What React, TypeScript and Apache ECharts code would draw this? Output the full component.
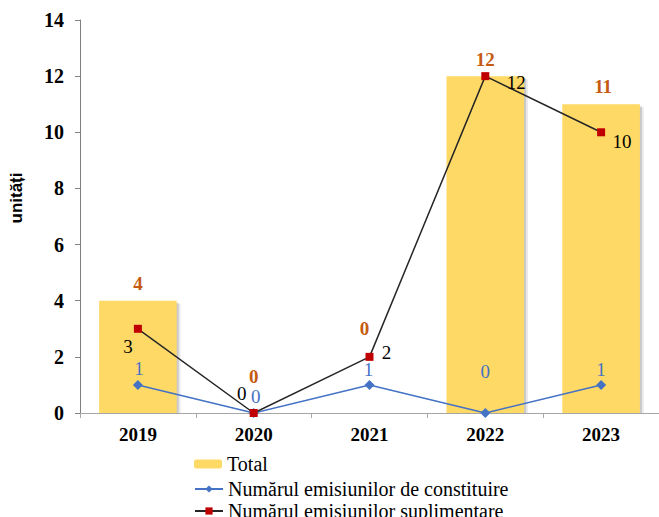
import React, { useEffect, useRef } from "react";
import * as echarts from "echarts";

const categories = ["2019", "2020", "2021", "2022", "2023"];
const totalValues = [4, 0, 0, 12, 11];
const constituireValues = [1, 0, 1, 0, 1];
const suplimentareValues = [3, 0, 2, 12, 10];

const legendNames = [
  "Total",
  "Numărul emisiunilor de constituire",
  "Numărul emisiunilor suplimentare",
];

const totalLabelOffsets = [[0, -3], [0, -22], [-5, -70], [0, -2], [2, -3]];
const constLabelOffsets = [[1, -16], [2, -17], [-1, -15], [0, -42], [0, -15]];
const suplLabelOffsets = [[-10, 18], [-12, -20], [17, -4], [31, 6], [21, 9]];

const serif = "Liberation Serif";

export default function App() {
  const ref = useRef<HTMLDivElement>(null);
  useEffect(() => {
    if (!ref.current) return;
    const chart = echarts.init(ref.current, null, { renderer: "svg" });
    const legendTops = [454, 479, 501];
    chart.setOption({
      animation: false,
      backgroundColor: "#ffffff",
      textStyle: { fontFamily: serif },
      grid: { left: 80, right: -9, top: 20, bottom: 104, containLabel: false },
      graphic: [
        {
          type: "text",
          x: 16,
          y: 198,
          rotation: Math.PI / 2,
          style: {
            text: "unități",
            align: "center",
            verticalAlign: "middle",
            fontFamily: "Liberation Sans",
            fontWeight: "bold",
            fontSize: 17,
            fill: "#000",
          },
        },
      ],
      legend: legendNames.map((n, i) => ({
        orient: "vertical",
        left: 194,
        top: legendTops[i],
        itemWidth: 28,
        itemHeight: 9,
        padding: 0,
        textStyle: { fontFamily: serif, fontSize: 20, color: "#000" },
        data: [n],
      })),
      xAxis: {
        type: "category",
        data: categories,
        axisLine: { lineStyle: { color: "#a6a6a6" } },
        axisTick: { show: true, length: 5, lineStyle: { color: "#a6a6a6" } },
        axisLabel: {
          fontFamily: serif,
          fontWeight: "bold",
          fontSize: 19,
          color: "#000",
          margin: 12,
        },
      },
      yAxis: {
        type: "value",
        min: 0,
        max: 14,
        interval: 2,
        splitLine: { show: false },
        axisLine: { show: true, lineStyle: { color: "#808080" } },
        axisTick: { show: true, length: 5, lineStyle: { color: "#808080" } },
        axisLabel: {
          fontFamily: serif,
          fontWeight: "bold",
          fontSize: 20,
          color: "#000",
          margin: 16,
        },
      },
      series: [
        {
          name: "shadow",
          type: "custom",
          silent: true,
          z: 0,
          data: totalValues.map((v, i) => [i, v]),
          renderItem: (params: any, api: any) => {
            const top = api.coord([api.value(0), api.value(1)]);
            const base = api.coord([api.value(0), 0]);
            const w = api.size([1, 0])[0] * 0.67;
            const h = base[1] - top[1];
            if (h <= 0) return null;
            return {
              type: "group",
              children: [
                {
                  type: "rect",
                  shape: { x: top[0] - w / 2 + 4, y: top[1] + 3, width: w, height: h - 3 },
                  style: { fill: "rgba(0,0,0,0.08)" },
                },
                {
                  type: "rect",
                  shape: { x: top[0] - w / 2 + 2, y: top[1] + 2, width: w, height: h - 2 },
                  style: { fill: "rgba(0,0,0,0.14)" },
                },
              ],
            };
          },
        },
        {
          name: "Total",
          type: "bar",
          barWidth: "67%",
          itemStyle: { color: "#FFD966" },
          data: totalValues.map((v, i) => ({
            value: v,
            label: {
              show: true,
              position: "top",
              distance: 5,
              offset: totalLabelOffsets[i],
              fontFamily: serif,
              fontWeight: "bold",
              fontSize: 19,
              color: "#C55A11",
            },
          })),
          z: 1,
        },
        {
          name: "Numărul emisiunilor de constituire",
          type: "line",
          symbol: "diamond",
          symbolSize: 10,
          color: "#4472C4",
          lineStyle: { color: "#4472C4", width: 1.5 },
          itemStyle: { color: "#4472C4" },
          data: constituireValues.map((v, i) => ({
            value: v,
            label: {
              show: true,
              position: "inside",
              offset: constLabelOffsets[i],
              fontFamily: serif,
              fontSize: 19,
              color: "#4472C4",
            },
          })),
          z: 3,
        },
        {
          name: "Numărul emisiunilor suplimentare",
          type: "line",
          symbol: "rect",
          symbolSize: 8,
          color: "#C00000",
          lineStyle: { color: "#262626", width: 1.5 },
          itemStyle: { color: "#C00000" },
          data: suplimentareValues.map((v, i) => ({
            value: v,
            label: {
              show: true,
              position: "inside",
              offset: suplLabelOffsets[i],
              fontFamily: serif,
              fontSize: 19,
              color: "#000",
            },
          })),
          z: 4,
        },
      ],
    });
    return () => chart.dispose();
  }, []);
  return <div ref={ref} style={{ width: 659, height: 517, position: "absolute", left: 0, top: 0 }} />;
}
